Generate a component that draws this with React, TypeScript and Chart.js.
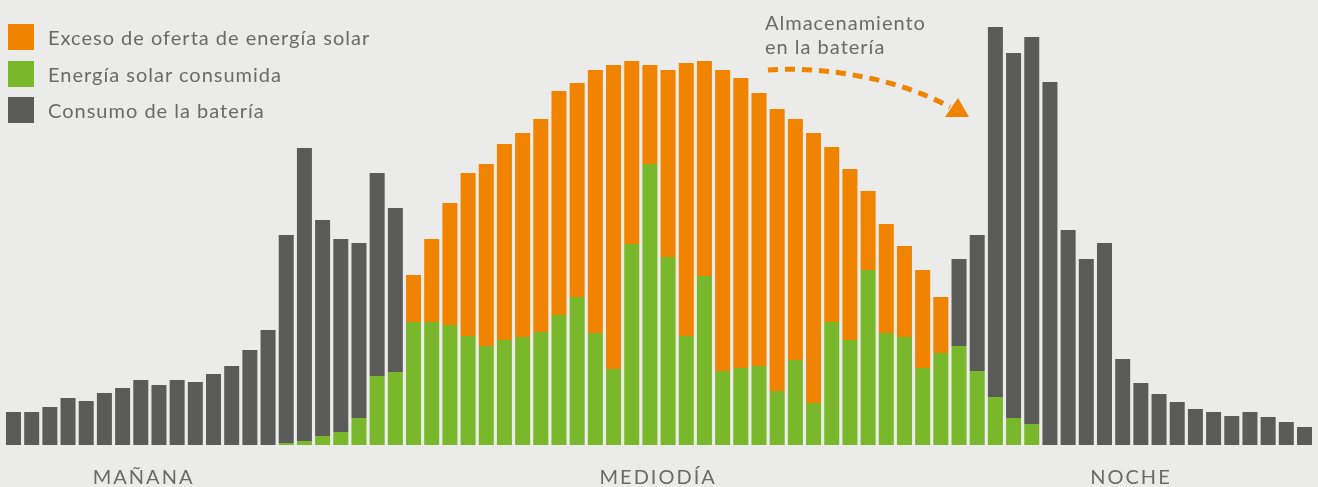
import React, { useEffect, useRef } from "react";
import { Chart, registerables } from "chart.js";

Chart.register(...registerables);

// 72 time slots (20-minute intervals over a day)
const slots: string[] = Array.from({ length: 72 }, (_, i) => {
  const m = i * 20;
  return `${String(Math.floor(m / 60)).padStart(2, "0")}:${String(m % 60).padStart(2, "0")}`;
});

const consumedSolar: number[] = [
  0, 0, 0, 0, 0, 0, 0, 0, 0, 0, 0, 0, 0, 0, 0, 2, 4, 9, 13, 27, 69, 73,
  123, 123, 120, 109, 99, 105, 108, 113, 130, 148, 112, 76, 201, 281, 188, 109, 169, 74, 77, 79,
  54, 85, 42, 123, 105, 175, 112, 108, 77, 92, 99, 74, 48, 27, 21,
  0, 0, 0, 0, 0, 0, 0, 0, 0, 0, 0, 0, 0, 0, 0,
];

const excessSolar: number[] = [
  0, 0, 0, 0, 0, 0, 0, 0, 0, 0, 0, 0, 0, 0, 0, 0, 0, 0, 0, 0, 0, 0,
  47, 83, 122, 163, 182, 196, 204, 213, 224, 214, 263, 304, 183, 99, 187, 273, 215, 301, 290, 273,
  282, 241, 270, 175, 171, 79, 109, 91, 98, 56, 0, 0, 0, 0, 0,
  0, 0, 0, 0, 0, 0, 0, 0, 0, 0, 0, 0, 0, 0, 0,
];

const batteryUse: number[] = [
  33, 33, 38, 47, 44, 52, 57, 65, 60, 65, 63, 71, 79, 95, 115, 208, 293, 216, 193, 175, 203, 164,
  0, 0, 0, 0, 0, 0, 0, 0, 0, 0, 0, 0, 0, 0, 0, 0, 0, 0, 0, 0,
  0, 0, 0, 0, 0, 0, 0, 0, 0, 0, 87, 136, 370, 365, 387,
  363, 215, 186, 202, 86, 62, 51, 43, 36, 33, 29, 33, 28, 23, 18,
];

const periodLabels: string[] = ["MAÑANA", "MEDIODÍA", "NOCHE"];
const periodSlots: number[] = [7.1, 35.4, 61.4];

const seriesNames: string[] = [
  "Exceso de oferta de energía solar",
  "Energía solar consumida",
  "Consumo de la batería",
];
const annotationLines: string[] = ["Almacenamiento", "en la batería"];

const ORANGE = "#f08300";
const GREEN = "#79b82b";
const GREY = "#5b5b59";
const BG = "#ebebe9";
const TEXT = "#6a6a6a";
const FONT = "Lato, 'Open Sans', sans-serif";

// Draws the period labels under the x axis, positioned through the x scale
const periodLabelPlugin = {
  id: "periodLabels",
  afterDraw(chart: any) {
    const xs = chart.scales.x;
    const ctx = chart.ctx;
    const step = xs.getPixelForValue(1) - xs.getPixelForValue(0);
    ctx.save();
    (ctx as any).letterSpacing = "2px";
    ctx.font = `20px ${FONT}`;
    ctx.fillStyle = TEXT;
    ctx.textAlign = "center";
    ctx.textBaseline = "alphabetic";
    periodLabels.forEach((label, i) => {
      const v = periodSlots[i];
      const base = Math.floor(v);
      const px = xs.getPixelForValue(base) + (v - base) * step + 1;
      ctx.fillText(label, px, chart.chartArea.bottom + 39);
    });
    (ctx as any).letterSpacing = "0px";
    ctx.restore();
  },
};

export default function App() {
  const canvasRef = useRef<HTMLCanvasElement | null>(null);

  useEffect(() => {
    if (!canvasRef.current) return;
    const chart = new Chart(canvasRef.current, {
      type: "bar",
      data: {
        labels: slots,
        datasets: [
          {
            label: seriesNames[1],
            data: consumedSolar,
            backgroundColor: GREEN,
            borderWidth: 0,
            stack: "s",
          },
          {
            label: seriesNames[0],
            data: excessSolar,
            backgroundColor: ORANGE,
            borderWidth: 0,
            stack: "s",
          },
          {
            label: seriesNames[2],
            data: batteryUse,
            backgroundColor: GREY,
            borderWidth: 0,
            stack: "s",
          },
        ],
      },
      options: {
        responsive: false,
        animation: false,
        devicePixelRatio: 1,
        layout: { padding: { left: 4.4, right: 4.4, top: 5, bottom: 42 } },
        datasets: {
          bar: { categoryPercentage: 1, barPercentage: 0.825 },
        },
        plugins: {
          legend: { display: false },
          tooltip: { enabled: false },
        },
        scales: {
          x: {
            stacked: true,
            display: false,
            offset: true,
          },
          y: {
            stacked: true,
            display: false,
            min: 0,
            max: 440,
          },
        },
      },
      plugins: [periodLabelPlugin],
    } as any);
    return () => chart.destroy();
  }, []);

  const legendColors = [ORANGE, GREEN, GREY];
  const legendTops = [24, 61, 97];

  return (
    <div
      style={{
        position: "absolute",
        left: 0,
        top: 0,
        width: 1318,
        height: 487,
        background: BG,
        overflow: "hidden",
        fontFamily: FONT,
      }}
    >
      <canvas
        ref={canvasRef}
        width={1318}
        height={487}
        style={{ position: "absolute", left: 0, top: 0, width: 1318, height: 487 }}
      />
      {seriesNames.map((name, i) => (
        <div key={name}>
          <div
            style={{
              position: "absolute",
              left: 8,
              top: legendTops[i],
              width: 26,
              height: 26,
              background: legendColors[i],
            }}
          />
          <div
            style={{
              position: "absolute",
              left: 48,
              top: legendTops[i] + 1,
              height: 24,
              lineHeight: "24px",
              fontSize: 20,
              letterSpacing: "1px",
              color: TEXT,
              whiteSpace: "nowrap",
            }}
          >
            {name}
          </div>
        </div>
      ))}
      <div
        style={{
          position: "absolute",
          left: 765,
          top: 10,
          lineHeight: "24px",
          fontSize: 20,
          letterSpacing: "1px",
          color: TEXT,
          whiteSpace: "nowrap",
        }}
      >
        {annotationLines.map((l) => (
          <div key={l}>{l}</div>
        ))}
      </div>
      <svg
        width={1318}
        height={487}
        style={{ position: "absolute", left: 0, top: 0, pointerEvents: "none" }}
      >
        <path
          d="M768,70 C830,66 900,80 950,107"
          fill="none"
          stroke={ORANGE}
          strokeWidth={5}
          strokeDasharray="10 7"
        />
        <polygon points="945,117 969,117 958,98" fill={ORANGE} />
      </svg>
    </div>
  );
}
